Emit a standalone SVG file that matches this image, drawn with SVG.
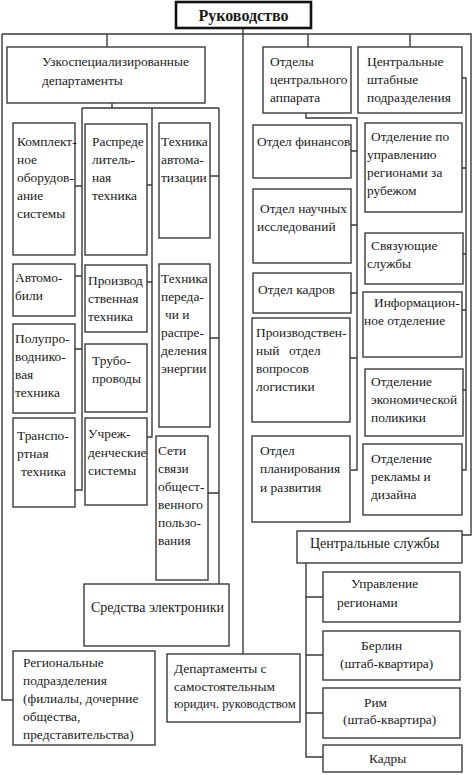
<svg xmlns="http://www.w3.org/2000/svg" width="474" height="775" viewBox="0 0 474 775">
<style>
.b{fill:#fff;stroke:#3a3a3a;stroke-width:1.4}
.c{fill:none;stroke:#3a3a3a;stroke-width:1.4}
.f{font-family:"Liberation Serif","Times New Roman",serif;font-size:13.4px;fill:#1a1a1a}
.h{font-weight:bold;font-size:16px}
.s{font-size:12.6px}
.m{font-size:14px}
</style>
<rect width="474" height="775" fill="#fff"/>
<g id="connectors" class="c">
<path d="M243,28 V654"/>
<path d="M2,34 H471 V535 H462"/>
<path d="M2,34 V700 H13"/>
<path d="M107,34 V47"/>
<path d="M308,34 V47"/>
<path d="M410,34 V47"/>
<path d="M112,103 V108 M82,108 H219 M82,108 V490 H75 M75,186 H82 M75,276 H82 M75,349 H82"/>
<path d="M152,108 V437 H147 M147,185 H152 M147,282 H152"/>
<path d="M219,108 V584 M210,176 H219 M210,338 H219 M208,493 H219"/>
<path d="M306,113 V118 H357 V470 H351 M351,151 H357 M351,225 H357 M351,293 H357 M350,358 H357"/>
<path d="M462,78 H466 V470 H462 M462,168 H466 M463,254 H466 M462,310 H466 M463,390 H466"/>
<path d="M306,563 V757 H323 M306,597 H323 M306,655 H323 M306,713 H323"/>
</g>
<g class="f">
<g id="rukovodstvo"><rect x="176" y="2" width="135" height="26" style="fill:#fff;stroke:#111;stroke-width:2.6"/><text class="h" x="243.5" y="21" text-anchor="middle">Руководство</text></g>
<g id="uzko"><rect class="b" x="7" y="47" width="198" height="56"/><text x="42" y="66">Узкоспециализированные</text><text x="42" y="85">департаменты</text></g>
<g id="komplekt"><rect class="b" x="13" y="123" width="62" height="132"/><text x="17" y="146">Комплект-</text><text x="17" y="164">ное</text><text x="17" y="182">оборудов-</text><text x="17" y="200">ание</text><text x="17" y="218">системы</text></g>
<g id="avto"><rect class="b" x="13" y="264" width="62" height="52"/><text x="15" y="282">Автомо-</text><text x="15" y="300">били</text></g>
<g id="polupro"><rect class="b" x="13" y="324" width="62" height="89"/><text x="15" y="343">Полупро-</text><text x="15" y="361">воднико-</text><text x="15" y="379">вая</text><text x="15" y="397">техника</text></g>
<g id="transport"><rect class="b" x="13" y="418" width="62" height="89"/><text x="17" y="440">Транспо-</text><text x="17" y="458">ртная</text><text x="21" y="476">техника</text></g>
<g id="raspred"><rect class="b" x="85" y="124" width="62" height="131"/><text x="92" y="146">Распреде</text><text x="92" y="164">литель-</text><text x="92" y="182">ная</text><text x="92" y="200">техника</text></g>
<g id="proizv"><rect class="b" x="85" y="265" width="62" height="67"/><text x="88" y="285">Производ</text><text x="88" y="303">ственная</text><text x="88" y="321">техника</text></g>
<g id="trubo"><rect class="b" x="85" y="344" width="62" height="68"/><text x="92" y="365">Трубо-</text><text x="92" y="383">проводы</text></g>
<g id="uchrezh"><rect class="b" x="85" y="418" width="62" height="87"/><text x="88" y="438">Учреж-</text><text x="88" y="457">денческие</text><text x="88" y="475">системы</text></g>
<g id="avtomat"><rect class="b" x="159" y="123" width="51" height="115"/><text x="161" y="146">Техника</text><text x="161" y="164">автома-</text><text x="161" y="182">тизации</text></g>
<g id="peredachi"><rect class="b" x="159" y="264" width="51" height="163"/><text x="161" y="283">Техника</text><text x="161" y="301">переда-</text><text x="165" y="319">чи  и</text><text x="161" y="337">распре-</text><text x="161" y="355">деления</text><text x="161" y="373">энергии</text></g>
<g id="seti"><rect class="b" x="156" y="436" width="52" height="144"/><text x="158" y="455">Сети</text><text x="158" y="473">связи</text><text x="158" y="491">общест-</text><text x="158" y="509">венного</text><text x="158" y="527">пользо-</text><text x="158" y="545">вания</text></g>
<g id="elektron"><rect class="b" x="84" y="584" width="145" height="62"/><text class="m" x="91" y="612">Средства электроники</text></g>
<g id="region"><rect class="b" x="13" y="651" width="142" height="94"/><text x="23" y="667">Региональные</text><text x="23" y="685">подразделения</text><text x="23" y="703">(филиалы, дочерние</text><text x="23" y="721">общества,</text><text x="23" y="739">представительства)</text></g>
<g id="samost"><rect class="b" x="167" y="654" width="133" height="68"/><text x="174" y="673">Департаменты с</text><text x="174" y="691">самостоятельным</text><text class="s" x="174" y="708">юридич. руководством</text></g>
<g id="otdely"><rect class="b" x="263" y="47" width="88" height="66"/><text x="270" y="66">Отделы</text><text x="270" y="84">центрального</text><text x="270" y="102">аппарата</text></g>
<g id="shtab"><rect class="b" x="358" y="47" width="104" height="66"/><text x="367" y="66">Центральные</text><text x="367" y="84">штабные</text><text x="367" y="102">подразделения</text></g>
<g id="finansy"><rect class="b" x="253" y="125" width="98" height="53"/><text x="257" y="146">Отдел финансов</text></g>
<g id="nauch"><rect class="b" x="253" y="189" width="98" height="74"/><text x="260" y="213">Отдел научных</text><text x="257" y="231">исследований</text></g>
<g id="kadry1"><rect class="b" x="253" y="273" width="98" height="40"/><text x="258" y="294">Отдел кадров</text></g>
<g id="logist"><rect class="b" x="252" y="318" width="98" height="104"/><text x="256" y="337">Производствен-</text><text x="256" y="355">ный</text><text x="289" y="355">отдел</text><text x="256" y="373">вопросов</text><text x="256" y="391">логистики</text></g>
<g id="plan"><rect class="b" x="252" y="436" width="98" height="86"/><text x="260" y="455">Отдел</text><text x="260" y="473">планирования</text><text x="260" y="492">и развития</text></g>
<g id="rubezh"><rect class="b" x="365" y="123" width="97" height="89"/><text x="371" y="141">Отделение по</text><text x="367" y="159">управлению</text><text x="367" y="177">регионами за</text><text x="367" y="195">рубежом</text></g>
<g id="svyaz"><rect class="b" x="365" y="233" width="98" height="51"/><text x="371" y="250">Связующие</text><text x="367" y="268">службы</text></g>
<g id="inform"><rect class="b" x="363" y="292" width="99" height="65"/><text x="374" y="307">Информацион-</text><text x="364" y="325">ное отделение</text></g>
<g id="ekonom"><rect class="b" x="365" y="369" width="98" height="67"/><text x="371" y="386">Отделение</text><text x="371" y="404">экономической</text><text x="371" y="422">поликики</text></g>
<g id="reklama"><rect class="b" x="363" y="444" width="99" height="71"/><text x="371" y="463">Отделение</text><text x="371" y="481">рекламы и</text><text x="371" y="499">дизайна</text></g>
<g id="sluzhby"><rect class="b" x="297" y="531" width="165" height="32"/><text class="m" x="310" y="548">Центральные службы</text></g>
<g id="upravl"><rect class="b" x="323" y="572" width="137" height="50"/><text x="351" y="588">Управление</text><text x="337" y="607">регионами</text></g>
<g id="berlin"><rect class="b" x="323" y="631" width="137" height="49"/><text x="361" y="650">Берлин</text><text x="340" y="668">(штаб-квартира)</text></g>
<g id="rim"><rect class="b" x="323" y="688" width="137" height="50"/><text x="364" y="707">Рим</text><text x="343" y="724">(штаб-квартира)</text></g>
<g id="kadry2"><rect class="b" x="323" y="745" width="139" height="27"/><text x="369" y="763">Кадры</text></g>
</g>
</svg>
